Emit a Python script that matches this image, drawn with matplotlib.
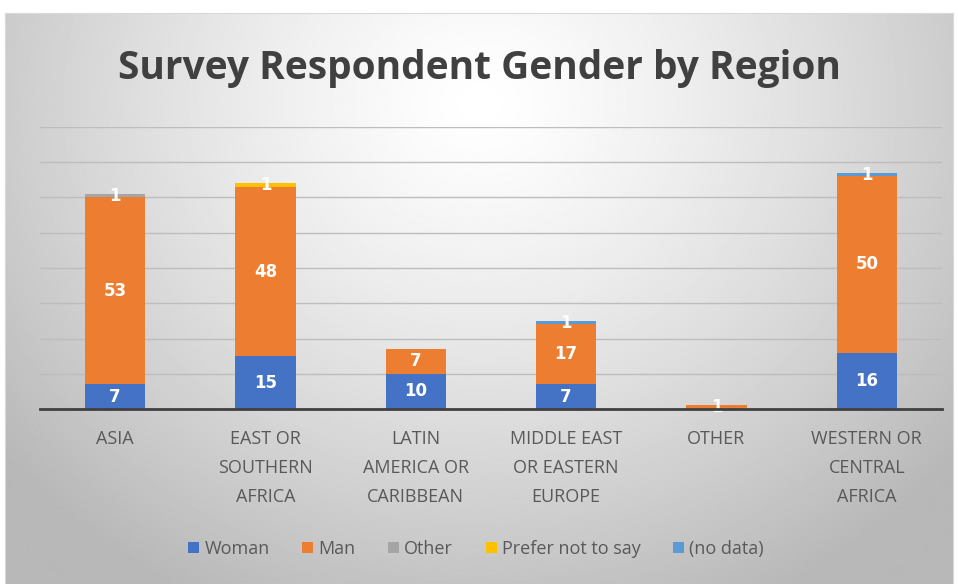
import matplotlib.pyplot as plt
import numpy as np

regions = ['ASIA', 'EAST OR\nSOUTHERN\nAFRICA', 'LATIN\nAMERICA OR\nCARIBBEAN',
           'MIDDLE EAST\nOR EASTERN\nEUROPE', 'OTHER', 'WESTERN OR\nCENTRAL\nAFRICA']
woman = [7, 15, 10, 7, 0, 16]
man = [53, 48, 7, 17, 1, 50]
other = [1, 0, 0, 0, 0, 0]
prefer_not = [0, 1, 0, 0, 0, 0]
no_data = [0, 0, 0, 1, 0, 1]

series = [('Woman', woman, '#4472C4'),
          ('Man', man, '#ED7D31'),
          ('Other', other, '#A5A5A5'),
          ('Prefer not to say', prefer_not, '#FFC000'),
          ('(no data)', no_data, '#5B9BD5')]

fig = plt.figure(figsize=(9.58, 5.84), dpi=100)

# radial grey background like the excel chart style
bg = fig.add_axes([0.005, 0.0, 0.99, 0.978])
yy, xx = np.mgrid[0:570, 0:950]
r = np.sqrt(((xx - 475) / 600.0) ** 2 + ((yy - 90) / 540.0) ** 2)
shade = np.clip(1.0 - 0.27 * r ** 1.3, 0.72, 1.0)
bg.imshow(shade, cmap='gray', vmin=0, vmax=1, aspect='auto')
bg.set_xticks([])
bg.set_yticks([])
for s in bg.spines.values():
    s.set_color('#d9d9d9')

ax = fig.add_axes([40 / 958, 1 - 409 / 584, 902 / 958, 282 / 584])
ax.patch.set_alpha(0)
x = np.arange(len(regions))
bottom = np.zeros(len(regions))
for name, vals, col in series:
    vals = np.array(vals, dtype=float)
    ax.bar(x, vals, 0.4, bottom=bottom, color=col, label=name, zorder=3)
    for xi, v, b in zip(x, vals, bottom):
        if v > 0:
            ax.text(xi, b + v / 2, '%d' % v, ha='center', va='center',
                    color='white', fontsize=12, fontweight='bold', zorder=4)
    bottom += vals

ax.set_xlim(-0.5, len(regions) - 0.5)
ax.set_ylim(0, 80)
ax.set_yticks(np.arange(0, 81, 10))
ax.yaxis.grid(True, color='#bdbdbd', linewidth=1, zorder=0)
ax.tick_params(axis='y', length=0, labelleft=False)
ax.tick_params(axis='x', length=0, pad=15)
ax.set_xticks(x)
ax.set_xticklabels(regions, fontsize=13, color='#595959', linespacing=1.78,
                   va='top', family='Open Sans')
for s in ['top', 'right', 'left']:
    ax.spines[s].set_visible(False)
ax.spines['bottom'].set_color('#404040')
ax.spines['bottom'].set_linewidth(2)
ax.spines['bottom'].set_zorder(5)

fig.text(0.5, 1 - 68 / 584, 'Survey Respondent Gender by Region', ha='center',
         va='center', fontsize=28, fontweight='bold', color='#404040', family='Open Sans')

fig.legend(loc='center', bbox_to_anchor=(0.497, 1 - 549 / 584), ncol=5, frameon=False,
           handlelength=0.6, handleheight=0.6, handletextpad=0.3,
           columnspacing=1.8, labelcolor='#595959', prop={'family': 'Open Sans', 'size': 13})

fig.savefig('out.png', dpi=100)
